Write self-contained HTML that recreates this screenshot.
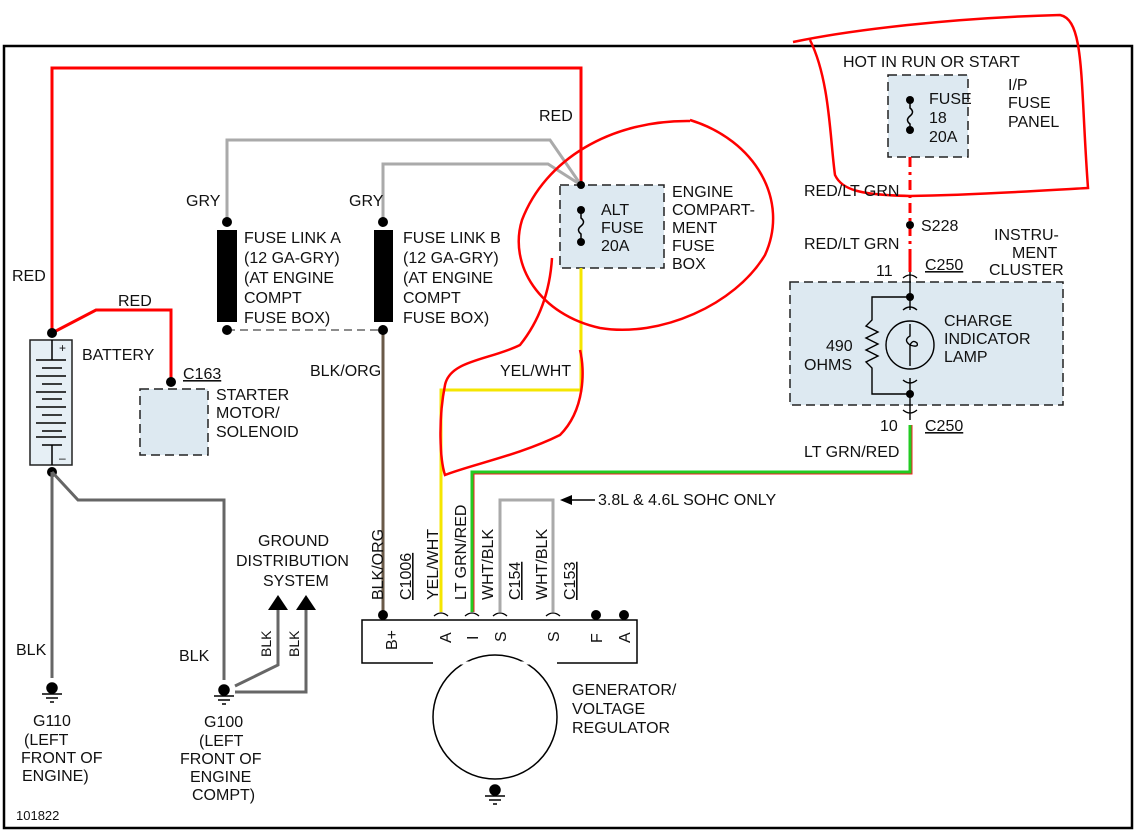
<!DOCTYPE html>
<html><head><meta charset="utf-8"><style>
html,body{margin:0;padding:0;background:#fff;}
svg{display:block;}
text{font-family:"Liberation Sans",Arial,sans-serif;font-size:16px;fill:#111;}
.u{text-decoration:underline;}
</style></head><body>
<svg width="1143" height="833" viewBox="0 0 1143 833" xmlns="http://www.w3.org/2000/svg">
<rect x="0" y="0" width="1143" height="833" fill="#fff"/>
<rect x="4" y="46" width="1128" height="782" fill="none" stroke="#000" stroke-width="2.5"/>

<rect x="560" y="185" width="104" height="83" fill="#dde9f1" stroke="#222" stroke-width="1.5" stroke-dasharray="9,5"/>
<rect x="888" y="75" width="80" height="82" fill="#dde9f1" stroke="#222" stroke-width="1.5" stroke-dasharray="9,5"/>
<rect x="790" y="282" width="273" height="123" fill="#dde9f1" stroke="#222" stroke-width="1.5" stroke-dasharray="9,5"/>
<rect x="140" y="389" width="68" height="66" fill="#dde9f1" stroke="#222" stroke-width="1.5" stroke-dasharray="9,5"/>
<rect x="30" y="340" width="42" height="125" fill="#e6eff5" stroke="#222" stroke-width="1.5"/>

<polyline points="52,333 52,68 581,68 581,185" fill="none" stroke="#f00" stroke-width="3"/>
<polyline points="52,333 96,310 171,310 171,382" fill="none" stroke="#f00" stroke-width="3"/>
<polyline points="227,222 227,140 550,140 581,185" fill="none" stroke="#aaa" stroke-width="3"/>
<polyline points="383,222 383,164 548,164 581,185" fill="none" stroke="#aaa" stroke-width="3"/>
<rect x="217" y="230" width="20" height="92" fill="#000"/>
<rect x="374" y="230" width="19" height="92" fill="#000"/>
<line x1="227" y1="330" x2="383" y2="330" stroke="#666" stroke-width="1.5" stroke-dasharray="8,5"/>
<line x1="383" y1="330" x2="383" y2="615" stroke="#6a5a48" stroke-width="3"/>
<polyline points="581,268 581,390 441,390 441,612" fill="none" stroke="#f5e600" stroke-width="3"/>
<polyline points="910,425 910,472 472,472 472,612" fill="none" stroke="#2c2" stroke-width="3"/>
<polyline points="912,425 912,474 474,474 474,612" fill="none" stroke="#e22" stroke-width="1"/>
<polyline points="500,612 500,500 553,500 553,612" fill="none" stroke="#aaa" stroke-width="3"/>
<line x1="570" y1="500" x2="595" y2="500" stroke="#000" stroke-width="1.5"/>
<polygon points="560,500 572,495 572,505" fill="#000"/>
<line x1="910" y1="157" x2="910" y2="270" stroke="#f00" stroke-width="3" stroke-dasharray="10,5,3,5"/>
<line x1="910" y1="250" x2="910" y2="272" stroke="#f00" stroke-width="3"/>

<g fill="#000">
<circle cx="52" cy="333" r="5"/><circle cx="52" cy="472" r="5"/>
<circle cx="171" cy="382" r="5"/>
<circle cx="227" cy="222" r="5"/><circle cx="383" cy="222" r="5"/>
<circle cx="227" cy="330" r="5"/><circle cx="383" cy="330" r="5"/>
<circle cx="581" cy="185" r="4"/><circle cx="581" cy="210" r="4"/><circle cx="581" cy="242" r="4"/>
<circle cx="910" cy="100" r="4"/><circle cx="910" cy="130" r="4"/>
<circle cx="910" cy="225" r="4"/>
<circle cx="383" cy="615" r="5"/><circle cx="596" cy="615" r="5"/><circle cx="624" cy="615" r="5"/>
<circle cx="910" cy="297" r="4"/><circle cx="910" cy="394" r="4"/>
</g>
<path d="M581,210 L581,218 q5,4 0,8 q-5,4 0,8 L581,242" fill="none" stroke="#000" stroke-width="1.5"/>
<path d="M910,100 L910,108 q5,4 0,8 q-5,4 0,8 L910,130" fill="none" stroke="#000" stroke-width="1.5"/>

<g stroke="#000" stroke-width="1.5">
<line x1="52" y1="340" x2="52" y2="360"/>
<line x1="36" y1="360" x2="66" y2="360"/><line x1="42" y1="368" x2="62" y2="368"/>
<line x1="36" y1="376" x2="66" y2="376"/><line x1="42" y1="384" x2="62" y2="384"/>
<line x1="36" y1="392" x2="66" y2="392"/><line x1="42" y1="399" x2="62" y2="399"/>
<line x1="36" y1="407" x2="66" y2="407"/><line x1="42" y1="415" x2="62" y2="415"/>
<line x1="36" y1="423" x2="66" y2="423"/><line x1="42" y1="431" x2="62" y2="431"/>
<line x1="36" y1="437" x2="66" y2="437"/><line x1="42" y1="445" x2="62" y2="445"/>
<line x1="52" y1="445" x2="52" y2="465"/>
</g>
<text x="59" y="352" style="font-size:12px">+</text><text x="59" y="462" style="font-size:12px">–</text>

<line x1="52" y1="472" x2="52" y2="678" stroke="#666" stroke-width="3"/>
<polyline points="52,472 78,500 224,500 224,680" fill="none" stroke="#666" stroke-width="3"/>
<polyline points="235,686 278,665 278,605" fill="none" stroke="#666" stroke-width="3"/>
<polyline points="235,692 306,692 306,605" fill="none" stroke="#666" stroke-width="3"/>
<polygon points="268,610 278,595 288,610" fill="#000"/>
<polygon points="296,610 306,595 316,610" fill="#000"/>
<g fill="#000" stroke="#000" stroke-width="1.5">
<circle cx="52" cy="688" r="5"/><line x1="42" y1="694" x2="62" y2="694"/><line x1="46" y1="698" x2="58" y2="698"/><line x1="50" y1="702" x2="54" y2="702"/>
<circle cx="224" cy="690" r="5"/><line x1="214" y1="696" x2="234" y2="696"/><line x1="218" y1="700" x2="230" y2="700"/><line x1="222" y1="704" x2="226" y2="704"/>
<circle cx="495" cy="790" r="5"/><line x1="485" y1="796" x2="505" y2="796"/><line x1="489" y1="800" x2="501" y2="800"/><line x1="493" y1="804" x2="497" y2="804"/>
</g>

<rect x="362" y="620" width="275" height="43" fill="#fff" stroke="#000" stroke-width="1.5"/>
<circle cx="495" cy="717" r="62" fill="#fff" stroke="#000" stroke-width="1.5"/>
<line x1="433" y1="663" x2="557" y2="663" stroke="#fff" stroke-width="3"/>
<g fill="none" stroke="#000" stroke-width="1.3">
<path d="M434,616 q7,-6 14,0"/><path d="M465,616 q7,-6 14,0"/><path d="M493,616 q7,-6 14,0"/><path d="M546,616 q7,-6 14,0"/>
<path d="M903,278 q7,-6 14,0"/><path d="M903,410 q7,6 14,0"/>
</g>
<g transform="rotate(-90)">
<text x="-650" y="397">B+</text><text x="-643" y="451">A</text><text x="-640" y="478">I</text>
<text x="-642" y="506">S</text><text x="-642" y="559">S</text><text x="-643" y="602">F</text><text x="-643" y="630">A</text>
<text x="-600" y="383">BLK/ORG</text><text class="u" x="-600" y="411">C1006</text>
<text x="-600" y="438">YEL/WHT</text><text x="-600" y="466">LT GRN/RED</text>
<text x="-600" y="493">WHT/BLK</text><text class="u" x="-600" y="520">C154</text>
<text x="-600" y="547">WHT/BLK</text><text class="u" x="-600" y="575">C153</text>
<text x="-657" y="271" style="font-size:14px">BLK</text><text x="-657" y="299" style="font-size:14px">BLK</text>
</g>

<g fill="none" stroke="#000" stroke-width="1.4">
<line x1="910" y1="272" x2="910" y2="310"/>
<line x1="910" y1="378" x2="910" y2="420"/>
<polyline points="910,297 872,297 872,320 866,326 878,332 866,338 878,344 866,350 878,356 866,362 872,368 872,394 910,394"/>
<circle cx="910" cy="345" r="24"/>
<path d="M903,310 q7,-6 14,0"/><path d="M903,380 q7,6 14,0"/>
<path d="M910,324 L910,336 q-7,4 0,9 q9,3 7,-2 q-4,-4 -7,2 L910,366"/>
</g>

<g fill="none" stroke="#f00" stroke-width="2.5">
<path d="M690,121 C610,120 545,160 522,220 C508,265 540,315 600,328 C660,338 735,305 765,255 C790,200 755,140 690,120"/>
<path d="M552,258 C550,290 540,320 520,345 C490,360 450,360 445,385 C438,420 440,460 445,475 C470,465 520,455 560,435 C585,410 585,370 580,350"/>
<path d="M793,42 C850,30 950,18 1060,15 C1085,20 1080,80 1088,188 C1050,190 980,195 910,196 C860,195 842,190 835,175 C830,140 830,80 810,40"/>
</g>

<text x="539" y="121">RED</text>
<text x="12" y="281">RED</text>
<text x="118" y="306">RED</text>
<text x="186" y="206">GRY</text>
<text x="349" y="206">GRY</text>
<text x="244" y="243">FUSE LINK A</text><text x="244" y="263">(12 GA-GRY)</text><text x="244" y="283">(AT ENGINE</text><text x="244" y="303">COMPT</text><text x="244" y="323">FUSE BOX)</text>
<text x="403" y="243">FUSE LINK B</text><text x="403" y="263">(12 GA-GRY)</text><text x="403" y="283">(AT ENGINE</text><text x="403" y="303">COMPT</text><text x="403" y="323">FUSE BOX)</text>
<text x="601" y="215">ALT</text><text x="601" y="233">FUSE</text><text x="601" y="251">20A</text>
<text x="672" y="197">ENGINE</text><text x="672" y="215">COMPART-</text><text x="672" y="233">MENT</text><text x="672" y="251">FUSE</text><text x="672" y="269">BOX</text>
<text x="82" y="360">BATTERY</text>
<text class="u" x="183" y="379">C163</text>
<text x="216" y="400">STARTER</text><text x="216" y="418">MOTOR/</text><text x="216" y="437">SOLENOID</text>
<text x="310" y="376">BLK/ORG</text>
<text x="500" y="376">YEL/WHT</text>
<text x="598" y="505">3.8L &amp; 4.6L SOHC ONLY</text>
<text x="258" y="546">GROUND</text><text x="236" y="566">DISTRIBUTION</text><text x="263" y="586">SYSTEM</text>
<text x="16" y="655">BLK</text><text x="179" y="661">BLK</text>
<text x="33" y="726">G110</text><text x="24" y="745">(LEFT</text><text x="21" y="763">FRONT OF</text><text x="22" y="781">ENGINE)</text>
<text x="204" y="727">G100</text><text x="199" y="746">(LEFT</text><text x="180" y="764">FRONT OF</text><text x="190" y="782">ENGINE</text><text x="192" y="800">COMPT)</text>
<text x="16" y="820" style="font-size:13px">101822</text>
<text x="572" y="695">GENERATOR/</text><text x="572" y="714">VOLTAGE</text><text x="572" y="733">REGULATOR</text>
<text x="843" y="67">HOT IN RUN OR START</text>
<text x="929" y="104">FUSE</text><text x="929" y="123">18</text><text x="929" y="142">20A</text>
<text x="1008" y="90">I/P</text><text x="1008" y="108">FUSE</text><text x="1008" y="127">PANEL</text>
<text x="804" y="196">RED/LT GRN</text>
<text x="921" y="231">S228</text>
<text x="804" y="249">RED/LT GRN</text>
<text x="994" y="240">INSTRU-</text><text x="1012" y="258">MENT</text><text x="989" y="275">CLUSTER</text>
<text x="876" y="276">11</text><text class="u" x="925" y="270">C250</text>
<text x="944" y="326">CHARGE</text><text x="944" y="344">INDICATOR</text><text x="944" y="362">LAMP</text>
<text x="826" y="351">490</text><text x="804" y="370">OHMS</text>
<text x="880" y="431">10</text><text class="u" x="925" y="431">C250</text>
<text x="804" y="457">LT GRN/RED</text>
</svg>
</body></html>
